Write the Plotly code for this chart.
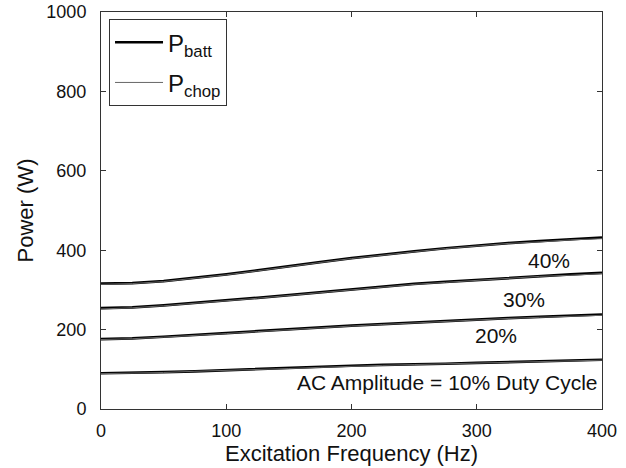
import plotly.graph_objects as go

freq = [0, 25, 50, 75, 100, 125, 150, 175, 200, 225, 250, 275, 300, 325, 350, 375, 400]

batt_10 = [90, 91, 93, 95, 98, 100, 103, 106, 109, 111, 112, 114, 116, 118, 120, 122, 124]
batt_20 = [176, 178, 182, 186, 191, 196, 201, 206, 210, 214, 218, 222, 226, 229, 232, 235, 238]
batt_30 = [254, 256, 261, 267, 273, 280, 287, 294, 302, 309, 315, 320, 325, 330, 335, 339, 343]
batt_40 = [316, 317, 322, 330, 339, 349, 360, 370, 380, 389, 397, 405, 412, 418, 423, 428, 432]

chop_10 = [89, 90, 92, 95, 97, 100, 102, 105, 108, 110, 112, 114, 116, 118, 120, 121, 123]
chop_20 = [175, 177, 181, 185, 190, 195, 200, 205, 209, 213, 217, 221, 225, 228, 231, 234, 236]
chop_30 = [252, 255, 260, 266, 272, 279, 286, 293, 301, 308, 314, 319, 324, 329, 334, 337, 341]
chop_40 = [314, 316, 321, 329, 338, 348, 359, 369, 379, 388, 396, 404, 411, 417, 421, 426, 429]

labels = ["AC Amplitude = 10% Duty Cycle", "20%", "30%", "40%"]
label_x = [398, 315, 338, 358]
label_y = [68, 184, 277, 374]
label_anchor = ["right", "center", "center", "center"]

fig = go.Figure()
batt = [batt_10, batt_20, batt_30, batt_40]
chop = [chop_10, chop_20, chop_30, chop_40]
for i, ys in enumerate(batt):
    fig.add_trace(go.Scatter(x=freq, y=ys, mode="lines", line=dict(color="black", width=2.7),
                             name="P<sub>batt</sub>", showlegend=(i == 0), legendgroup="batt"))
for i, ys in enumerate(chop):
    fig.add_trace(go.Scatter(x=freq, y=ys, mode="lines", line=dict(color="#666666", width=1),
                             name="P<sub>chop</sub>", showlegend=(i == 0), legendgroup="chop"))

for t, x, y, a in zip(labels, label_x, label_y, label_anchor):
    fig.add_annotation(x=x, y=y, text=t, showarrow=False, xanchor=a,
                       font=dict(size=21, color="#111"))

axis_common = dict(showgrid=False, zeroline=False, showline=True, linecolor="#333", linewidth=1,
                   mirror="ticks", ticks="inside", ticklen=5, tickcolor="#333", automargin=False,
                   tickfont=dict(size=18, color="#111"))
fig.update_xaxes(range=[0, 400], tickvals=[0, 100, 200, 300, 400], ticklabelstandoff=5,
                 title=dict(text="Excitation Frequency (Hz)", font=dict(size=22, color="#111"), standoff=6),
                 **axis_common)
fig.update_yaxes(range=[0, 1000], tickvals=[0, 200, 400, 600, 800, 1000], ticklabelstandoff=10,
                 title=dict(text="Power (W)", font=dict(size=22, color="#111"), standoff=6),
                 **axis_common)

fig.update_layout(
    width=626, height=468,
    margin=dict(l=101, r=24, t=12, b=59),
    plot_bgcolor="white", paper_bgcolor="white",
    font=dict(family="Liberation Sans, Arial, sans-serif", color="#111"),
    legend=dict(x=0.016, y=0.982, xanchor="left", yanchor="top", bgcolor="white",
                bordercolor="#333", borderwidth=1, font=dict(size=24), tracegroupgap=6,
                itemwidth=48),
)

fig.write_html("out.html")
